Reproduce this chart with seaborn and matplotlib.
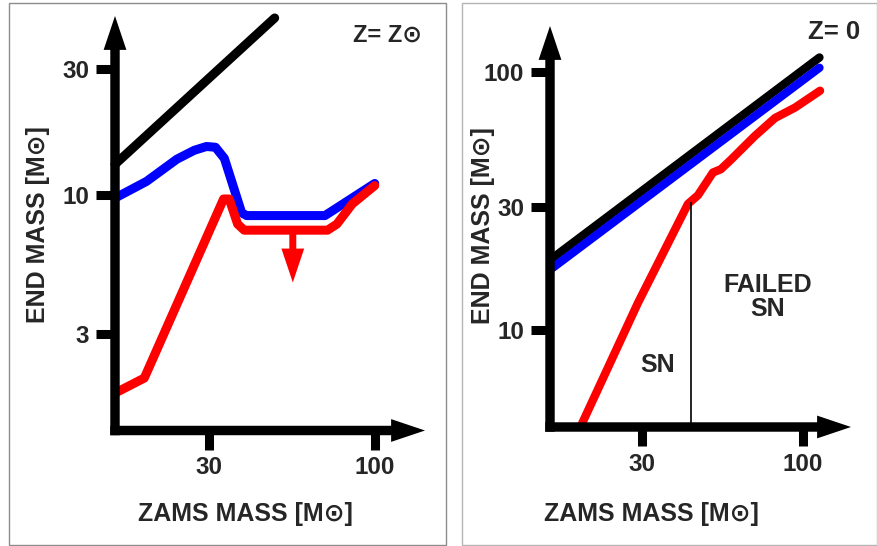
import numpy as np
import matplotlib.pyplot as plt
import seaborn as sns
from matplotlib.patches import Rectangle

sns.set_style("white")
plt.rcParams['font.family'] = ['Liberation Sans', 'DejaVu Sans']
plt.rcParams['font.weight'] = 'bold'

# --- Z = Zsun panel (ZAMS mass -> end mass, Msun) ---
zsun_black_x = [15.2, 48.4]
zsun_black_y = [13.1, 46.7]
zsun_blue_x = [15.5, 19.1, 23.8, 27.0, 29.5, 31.5, 33.6, 38.1, 39.5, 69.7, 100]
zsun_blue_y = [9.9, 11.3, 13.7, 14.8, 15.3, 15.2, 13.8, 8.6, 8.4, 8.4, 11.1]
zsun_red_x = [15.5, 18.8, 33.4, 34.8, 37.0, 38.8, 71.0, 76.0, 85.0, 100]
zsun_red_y = [1.82, 2.05, 9.7, 9.7, 7.8, 7.4, 7.4, 7.8, 9.3, 10.9]
zsun_arrow_x = 55.2
zsun_arrow_y = [7.4, 4.7]   # from line down to tip
zsun_xticks = [30, 100]
zsun_yticks = [3, 10, 30]

# --- Z = 0 panel ---
z0_black_x = [15.4, 113]
z0_black_y = [19.0, 114]
z0_blue_x = [15.4, 113]
z0_blue_y = [17.4, 104]
z0_red_x = [18.6, 29.1, 42.3, 45.6, 51.0, 54.1, 58.3, 69.8, 81.1, 94.2, 113.5]
z0_red_y = [4.0, 12.7, 30.8, 33.3, 40.8, 42.0, 45.7, 56.6, 66.4, 72.9, 84.7]
sn_limit_x = 43.3
sn_limit_top = 31.4
z0_xticks = [30, 100]
z0_yticks = [10, 30, 100]

W, H = 878, 546
fig = plt.figure(figsize=(W / 100, H / 100), dpi=100)


def px(x, y):
    return x / W, 1 - y / H


def draw_arrow(ax, xy, xytext, coords, color, lw):
    # shaft (stops under the head) + filled head
    ax.annotate('', xy=xy, xytext=xytext, xycoords=coords, textcoords=coords,
                arrowprops=dict(arrowstyle='-', lw=lw, color=color, shrinkA=0,
                                shrinkB=20, capstyle='projecting'),
                annotation_clip=False)
    dx = xy[0] - xytext[0]
    if coords == 'data':
        off = (0, 24.5)
    else:
        off = (-24.5, 0) if dx != 0 else (0, -24.5)
    ax.annotate('', xy=xy, xytext=off, xycoords=coords, textcoords='offset points',
                arrowprops=dict(arrowstyle='-|>,head_length=1.22,head_width=0.41',
                                mutation_scale=20, lw=0, color=color,
                                shrinkA=0, shrinkB=0),
                annotation_clip=False)


def setup_axes(ax, xlim, ylim, xticks, yticks):
    ax.set_xscale('log')
    ax.set_yscale('log')
    ax.set_xlim(*xlim)
    ax.set_ylim(*ylim)
    ax.set_xticks(xticks)
    ax.set_xticklabels([str(t) for t in xticks])
    ax.set_yticks(yticks)
    ax.set_yticklabels([str(t) for t in yticks])
    ax.minorticks_off()
    ax.tick_params(axis='both', which='major', direction='out', length=13.5,
                   width=6.5, labelsize=17.5, pad=5, color='black')
    ax.tick_params(axis='both', bottom=True, left=True)
    for s in ax.spines.values():
        s.set_visible(False)
    ax.patch.set_alpha(0)
    draw_arrow(ax, (1, 0), (0, 0), 'axes fraction', 'black', 6.8)
    draw_arrow(ax, (0, 1), (0, 0), 'axes fraction', 'black', 6.8)


# panel frames
fig.patches.append(Rectangle(px(9, 545), 437 / W, 542 / H, transform=fig.transFigure,
                             fill=False, ec='#8c8c8c', lw=1.0))
fig.patches.append(Rectangle(px(462, 545), 415 / W, 542 / H, transform=fig.transFigure,
                             fill=False, ec='#b4b4b4', lw=1.0))

# left panel
ax1 = fig.add_axes([115 / W, 1 - 430.5 / H, 310 / W, 414.5 / H])
sns.lineplot(x=zsun_black_x, y=zsun_black_y, ax=ax1, color='black', lw=6.5,
             estimator=None, sort=False, clip_on=False)
sns.lineplot(x=zsun_blue_x, y=zsun_blue_y, ax=ax1, color='#0000ff', lw=6.5,
             estimator=None, sort=False, clip_on=False)
sns.lineplot(x=zsun_red_x, y=zsun_red_y, ax=ax1, color='#ff0000', lw=6.5,
             estimator=None, sort=False, clip_on=False)
draw_arrow(ax1, (zsun_arrow_x, zsun_arrow_y[1]), (zsun_arrow_x, zsun_arrow_y[0]),
           'data', '#ff0000', 5)
setup_axes(ax1, (15.2, 144), (1.30, 47.5), zsun_xticks, zsun_yticks)

# right panel
ax2 = fig.add_axes([550 / W, 1 - 427 / H, 301 / W, 401 / H])
sns.lineplot(x=z0_black_x, y=z0_black_y, ax=ax2, color='black', lw=6,
             estimator=None, sort=False)
sns.lineplot(x=z0_blue_x, y=z0_blue_y, ax=ax2, color='#0000ff', lw=6,
             estimator=None, sort=False)
sns.lineplot(x=z0_red_x, y=z0_red_y, ax=ax2, color='#ff0000', lw=6,
             estimator=None, sort=False)
ax2.vlines(sn_limit_x, 4.2, sn_limit_top, color='black', lw=1.2)
setup_axes(ax2, (15.1, 143), (4.2, 151), z0_xticks, z0_yticks)

# labels
lab = dict(fontsize=18, fontweight='bold', ha='center', va='center')
fig.text(*px(38, 225), 'END MASS [M\u2299]', rotation=90, **lab)
fig.text(*px(245, 514), 'ZAMS MASS [M\u2299]', **lab)
fig.text(*px(483, 226), 'END MASS [M\u2299]', rotation=90, **lab)
fig.text(*px(651, 514), 'ZAMS MASS [M\u2299]', **lab)
fig.text(*px(388, 35), 'Z= Z\u2299', fontsize=17, fontweight='bold', ha='center', va='center')
fig.text(*px(834, 32), 'Z= 0', fontsize=18.5, fontweight='bold', ha='center', va='center')
fig.text(*px(768, 297), 'FAILED\nSN', linespacing=1.0, **lab)
fig.text(*px(658, 365), 'SN', **lab)

fig.savefig('out.png', dpi=100)
